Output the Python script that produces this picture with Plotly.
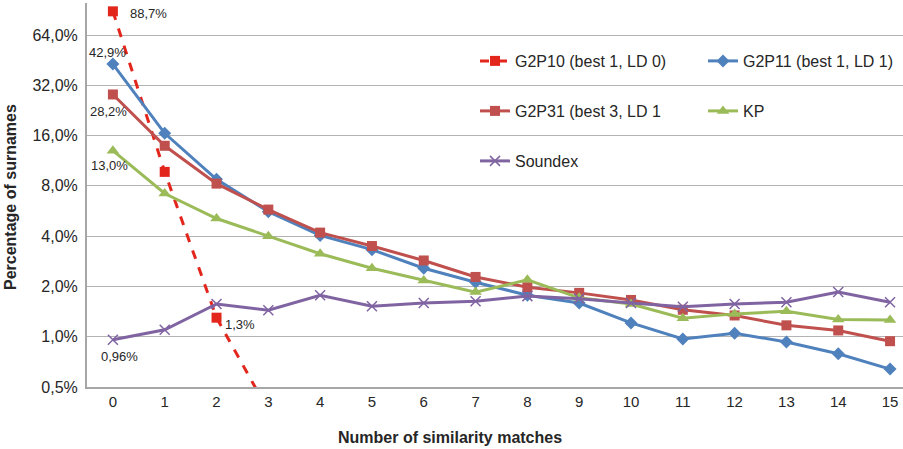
import math
import plotly.graph_objects as go

matches = list(range(16))
g2p10_x = [0, 1, 2, 3]
g2p10 = [88.7, 9.7, 1.3, 0.36]
g2p11 = [42.9, 16.5, 8.75, 5.6, 4.04, 3.32, 2.57, 2.12, 1.77, 1.59, 1.21, 0.97, 1.05, 0.93, 0.79, 0.64]
g2p31 = [28.2, 13.9, 8.25, 5.77, 4.2, 3.49, 2.86, 2.28, 1.98, 1.83, 1.66, 1.45, 1.34, 1.17, 1.09, 0.94]
kp = [13.0, 7.2, 5.1, 4.0, 3.14, 2.57, 2.17, 1.85, 2.19, 1.71, 1.57, 1.29, 1.37, 1.42, 1.27, 1.26]
soundex = [0.96, 1.10, 1.57, 1.44, 1.77, 1.52, 1.59, 1.63, 1.75, 1.69, 1.59, 1.51, 1.57, 1.61, 1.85, 1.61]

y_tickvals = [0.5, 1, 2, 4, 8, 16, 32, 64]
y_ticktext = ["0,5%", "1,0%", "2,0%", "4,0%", "8,0%", "16,0%", "32,0%", "64,0%"]

FONT = "Liberation Sans, Arial, sans-serif"
TXT = "#262626"

fig = go.Figure()
fig.add_trace(go.Scatter(x=g2p10_x, y=g2p10, name="G2P10 (best 1, LD 0)", mode="lines+markers",
                         line=dict(color="#E3261C", width=3, dash="dash"),
                         marker=dict(symbol="square", size=10, color="#E3261C"), legend="legend"))
fig.add_trace(go.Scatter(x=matches, y=g2p11, name="G2P11 (best 1, LD 1)", mode="lines+markers",
                         line=dict(color="#4F81BD", width=3),
                         marker=dict(symbol="diamond", size=10, color="#4F81BD"), legend="legend"))
fig.add_trace(go.Scatter(x=matches, y=g2p31, name="G2P31 (best 3, LD 1", mode="lines+markers",
                         line=dict(color="#C0504D", width=3),
                         marker=dict(symbol="square", size=10, color="#C0504D"), legend="legend2"))
fig.add_trace(go.Scatter(x=matches, y=kp, name="KP", mode="lines+markers",
                         line=dict(color="#9BBB59", width=3),
                         marker=dict(symbol="triangle-up", size=11, color="#9BBB59"), legend="legend2"))
fig.add_trace(go.Scatter(x=matches, y=soundex, name="Soundex", mode="lines+markers",
                         line=dict(color="#8064A2", width=3),
                         marker=dict(symbol="x-thin", size=10, line=dict(color="#8064A2", width=1.5)),
                         legend="legend3"))

notes = [
    (0, 88.7, "88,7%", "left", 15, -2),
    (0, 42.9, "42,9%", "center", -5, 12),
    (0, 28.2, "28,2%", "center", -4, -17),
    (0, 13.0, "13,0%", "center", -3, -15),
    (2, 1.3, "1,3%", "left", 6, -7),
    (0, 0.96, "0,96%", "center", 7, -17),
]
for x, v, t, xa, dx, dy in notes:
    fig.add_annotation(x=x, y=math.log10(v), text=t, showarrow=False, xanchor=xa, yanchor="middle",
                       xshift=dx, yshift=dy, font=dict(family=FONT, size=13, color=TXT))

fig.add_annotation(text="<b>Number of similarity matches</b>", xref="paper", yref="paper",
                   x=(450 - 87) / 816, y=-(437 - 387) / 384, showarrow=False,
                   xanchor="center", yanchor="middle", font=dict(family=FONT, size=16, color=TXT))
fig.add_annotation(text="<b>Percentage of surnames</b>", xref="paper", yref="paper",
                   x=(11 - 87) / 816, y=(387 - 197) / 384, showarrow=False, textangle=-90,
                   xanchor="center", yanchor="middle", font=dict(family=FONT, size=16, color=TXT))

leg = dict(orientation="h", x=(475 - 87) / 816, xanchor="left", yanchor="middle",
           bgcolor="rgba(0,0,0,0)", font=dict(family=FONT, size=16, color=TXT),
           entrywidth=183, entrywidthmode="pixels", itemwidth=30, tracegroupgap=0)

fig.update_layout(
    width=903, height=449,
    margin=dict(l=87, r=0, t=3, b=62, autoexpand=False),
    paper_bgcolor="white", plot_bgcolor="white",
    font=dict(family=FONT, size=15, color=TXT),
    showlegend=True,
    legend=dict(leg, y=(387 - 61) / 384),
    legend2=dict(leg, y=(387 - 111) / 384),
    legend3=dict(leg, y=(387 - 161) / 384),
    xaxis=dict(range=[-0.5, 15.25], tickvals=matches, ticktext=[str(m) for m in matches],
               showgrid=False, showline=True, linecolor="#a6a6a6", linewidth=2,
               ticks="", tickfont=dict(family=FONT, size=15, color=TXT), zeroline=False),
    yaxis=dict(type="log", range=[math.log10(0.5), math.log10(99.5)], tickvals=y_tickvals,
               ticktext=y_ticktext, showgrid=True, gridcolor="#b3b3b3", gridwidth=1,
               showline=True, linecolor="#a6a6a6", linewidth=2, ticks="",
               ticklabelstandoff=4,
               tickfont=dict(family=FONT, size=16, color=TXT), zeroline=False),
)

fig.write_html("out.html")
